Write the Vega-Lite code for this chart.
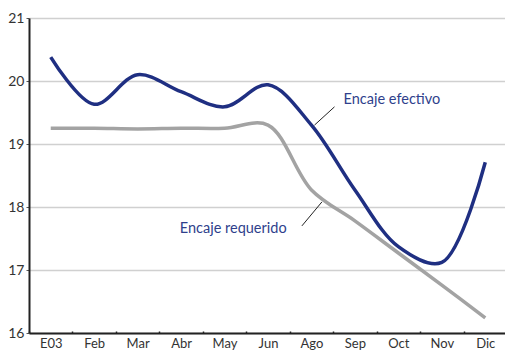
{
  "$schema": "https://vega.github.io/schema/vega-lite/v6.json",
  "width": 478,
  "height": 315,
  "autosize": {"type": "none"},
  "padding": {"left": 29, "top": 18, "right": 0, "bottom": 21},
  "config": {"view": {"stroke": null}, "font": "Lato"},
  "datasets": {
    "series": [
      {"mes": "E03", "serie": "Encaje efectivo", "valor": 20.38},
      {"mes": "Feb", "serie": "Encaje efectivo", "valor": 19.63},
      {"mes": "Mar", "serie": "Encaje efectivo", "valor": 20.1},
      {"mes": "Abr", "serie": "Encaje efectivo", "valor": 19.83},
      {"mes": "May", "serie": "Encaje efectivo", "valor": 19.59},
      {"mes": "Jun", "serie": "Encaje efectivo", "valor": 19.94},
      {"mes": "Ago", "serie": "Encaje efectivo", "valor": 19.3},
      {"mes": "Sep", "serie": "Encaje efectivo", "valor": 18.27},
      {"mes": "Oct", "serie": "Encaje efectivo", "valor": 17.37},
      {"mes": "Nov", "serie": "Encaje efectivo", "valor": 17.12},
      {"mes": "Dic", "serie": "Encaje efectivo", "valor": 18.71},
      {"mes": "E03", "serie": "Encaje requerido", "valor": 19.25},
      {"mes": "Feb", "serie": "Encaje requerido", "valor": 19.25},
      {"mes": "Mar", "serie": "Encaje requerido", "valor": 19.24},
      {"mes": "Abr", "serie": "Encaje requerido", "valor": 19.25},
      {"mes": "May", "serie": "Encaje requerido", "valor": 19.25},
      {"mes": "Jun", "serie": "Encaje requerido", "valor": 19.3},
      {"mes": "Ago", "serie": "Encaje requerido", "valor": 18.27},
      {"mes": "Sep", "serie": "Encaje requerido", "valor": 17.78},
      {"mes": "Oct", "serie": "Encaje requerido", "valor": 17.27},
      {"mes": "Nov", "serie": "Encaje requerido", "valor": 16.76},
      {"mes": "Dic", "serie": "Encaje requerido", "valor": 16.24}
    ],
    "etiquetas": [
      {"texto": "Encaje efectivo", "x": 6.74, "y": 19.7},
      {"texto": "Encaje requerido", "x": 2.97, "y": 17.65}
    ],
    "guias": [
      {"x": 6.07, "y": 19.3, "x2": 6.53, "y2": 19.59},
      {"x": 5.78, "y": 17.7, "x2": 6.24, "y2": 18.08}
    ]
  },
  "resolve": {"scale": {"x": "independent"}},
  "layer": [
    {
      "data": {"name": "series"},
      "mark": {"type": "line", "interpolate": "catmull-rom", "strokeWidth": 3.5, "strokeCap": "butt"},
      "encoding": {
        "x": {
          "field": "mes", "type": "ordinal",
          "sort": ["E03", "Feb", "Mar", "Abr", "May", "Jun", "Ago", "Sep", "Oct", "Nov", "Dic"],
          "scale": {"type": "band", "paddingInner": 0, "paddingOuter": 0},
          "axis": {
            "title": null, "labelAngle": 0, "tickBand": "extent",
            "domainColor": "#222", "domainWidth": 2,
            "tickColor": "#222", "tickSize": -2, "tickWidth": 1.5,
            "labelColor": "#333", "labelFontSize": 13, "labelPadding": 6, "grid": false
          }
        },
        "y": {
          "field": "valor", "type": "quantitative",
          "scale": {"domain": [16, 21], "nice": false, "zero": false},
          "axis": {
            "title": null, "values": [16, 17, 18, 19, 20, 21], "format": "d",
            "domainColor": "#222", "domainWidth": 2,
            "tickColor": "#555", "tickSize": 3, "tickWidth": 1,
            "labelColor": "#333", "labelFontSize": 14, "labelPadding": 2,
            "grid": true, "gridColor": "#d0d0d0", "gridWidth": 1.5
          }
        },
        "color": {
          "field": "serie", "type": "nominal",
          "scale": {"domain": ["Encaje efectivo", "Encaje requerido"], "range": ["#1f2f82", "#a3a3a3"]},
          "legend": null
        },
        "order": {"field": "serie", "sort": "descending"}
      }
    },
    {
      "layer": [
        {
          "data": {"name": "guias"},
          "mark": {"type": "rule", "color": "#222", "strokeWidth": 1},
          "encoding": {
            "x": {"field": "x", "type": "quantitative", "scale": {"domain": [-0.5, 10.5], "nice": false, "zero": false}, "axis": null},
            "x2": {"field": "x2"},
            "y": {"field": "y", "type": "quantitative"},
            "y2": {"field": "y2"}
          }
        },
        {
          "data": {"name": "etiquetas"},
          "mark": {"type": "text", "align": "left", "baseline": "middle", "fontSize": 14.5, "color": "#2f3f8c"},
          "encoding": {
            "x": {"field": "x", "type": "quantitative", "scale": {"domain": [-0.5, 10.5], "nice": false, "zero": false}, "axis": null},
            "y": {"field": "y", "type": "quantitative"},
            "text": {"field": "texto"}
          }
        }
      ]
    }
  ]
}
